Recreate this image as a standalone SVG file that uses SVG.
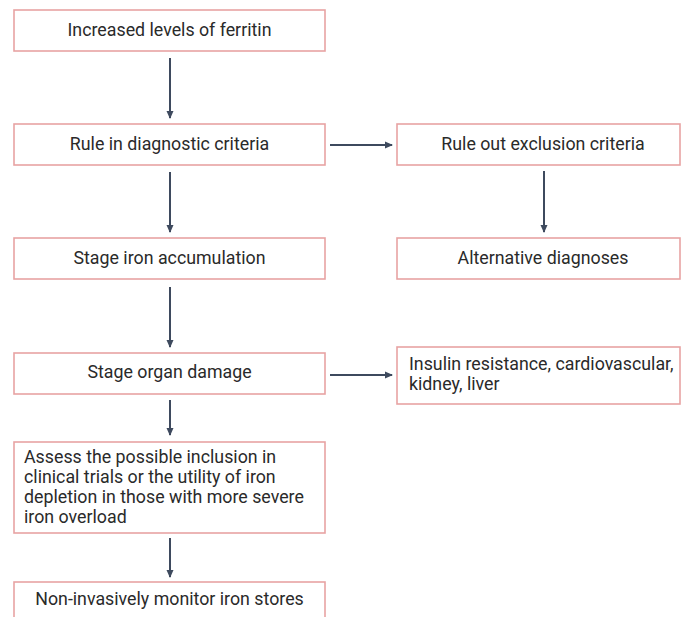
<svg xmlns="http://www.w3.org/2000/svg" width="681" height="617" viewBox="0 0 681 617">
<style>
.box{fill:#fff;stroke:#e8a3a3;stroke-width:1.6}
.t{font-family:Roboto,"Liberation Sans",sans-serif;font-size:17.8px;fill:#2a2a2a}
.c{text-anchor:middle}
.ar{stroke:#3e4a5e;stroke-width:2;fill:none;marker-end:url(#ah)}
</style>
<defs>
<marker id="ah" markerWidth="8" markerHeight="8" refX="7" refY="4" orient="auto" markerUnits="userSpaceOnUse">
<path d="M0,0.5 L8,4 L0,7.5 Z" fill="#3e4a5e"/>
</marker>
</defs>
<rect width="681" height="617" fill="#fff"/>
<g id="n1"><rect class="box" x="14" y="10" width="311" height="41"/><text class="t c" x="169.5" y="36">Increased levels of ferritin</text></g>
<g id="n2"><rect class="box" x="14" y="124" width="311" height="41"/><text class="t c" x="169.5" y="150">Rule in diagnostic criteria</text></g>
<g id="n3"><rect class="box" x="397" y="124" width="283" height="41"/><text class="t c" x="543" y="150">Rule out exclusion criteria</text></g>
<g id="n4"><rect class="box" x="14" y="238" width="311" height="41"/><text class="t c" x="169.5" y="264">Stage iron accumulation</text></g>
<g id="n5"><rect class="box" x="397" y="238" width="283" height="41"/><text class="t c" x="543" y="264">Alternative diagnoses</text></g>
<g id="n6"><rect class="box" x="14" y="353" width="311" height="41"/><text class="t c" x="169.5" y="378">Stage organ damage</text></g>
<g id="n7"><rect class="box" x="397" y="347" width="283" height="57"/><text class="t" x="409" y="370">Insulin resistance, cardiovascular,</text><text class="t" x="409" y="390">kidney, liver</text></g>
<g id="n8"><rect class="box" x="14" y="442" width="311" height="91"/><text class="t" x="24" y="463">Assess the possible inclusion in</text><text class="t" x="24" y="483">clinical trials or the utility of iron</text><text class="t" x="24" y="503">depletion in those with more severe</text><text class="t" x="24" y="523">iron overload</text></g>
<g id="n9"><rect class="box" x="14" y="582" width="311" height="45"/><text class="t c" x="169.5" y="605">Non-invasively monitor iron stores</text></g>
<g id="connectors">
<line class="ar" x1="170" y1="58" x2="170" y2="118"/>
<line class="ar" x1="170" y1="172" x2="170" y2="232"/>
<line class="ar" x1="170" y1="287" x2="170" y2="347"/>
<line class="ar" x1="170" y1="400" x2="170" y2="435"/>
<line class="ar" x1="170" y1="538" x2="170" y2="577"/>
<line class="ar" x1="330" y1="145" x2="392" y2="145"/>
<line class="ar" x1="544" y1="171" x2="544" y2="232"/>
<line class="ar" x1="330" y1="375" x2="392" y2="375"/>
</g>
</svg>
